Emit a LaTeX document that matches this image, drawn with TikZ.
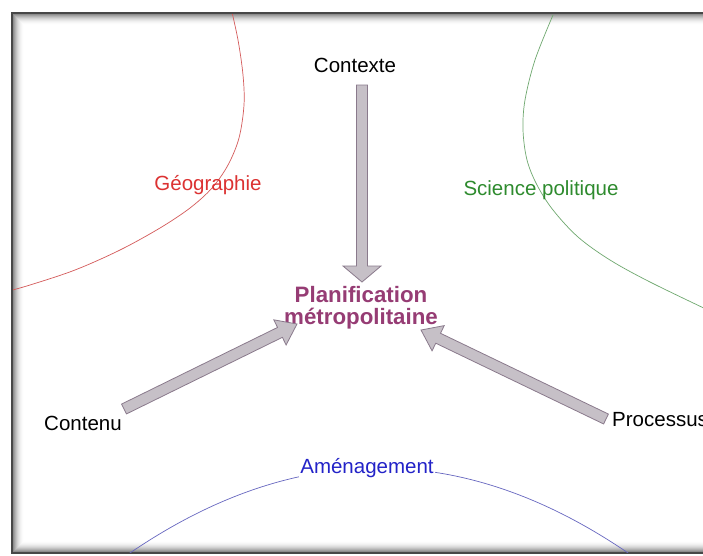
\documentclass[tikz,border=0pt]{standalone}
\usepackage{fontspec}
\setmainfont{Liberation Sans}
\usetikzlibrary{calc}
\definecolor{geotxt}{HTML}{DC3232}
\definecolor{geoarc}{HTML}{D45A5A}
\definecolor{scitxt}{HTML}{2E8B2E}
\definecolor{sciarc}{HTML}{6FA86F}
\definecolor{amentxt}{HTML}{2323C8}
\definecolor{amenarc}{HTML}{6666C0}
\definecolor{plantxt}{HTML}{963C74}
\definecolor{arrfill}{HTML}{C6C0C7}
\definecolor{arrline}{HTML}{8A7A8C}
\newcommand\blockarrow[5]{%
  \coordinate (#1-#2-b) at ($(#2)!#4!(#1)$);
  \filldraw[blockarr]
    ($(#1)!#3!90:(#2)$) -- ($(#1-#2-b)!#3!90:(#2)$) -- ($(#1-#2-b)!#5!90:(#2)$)
    -- (#2) -- ($(#1-#2-b)!#5!-90:(#2)$) -- ($(#1-#2-b)!#3!-90:(#2)$)
    -- ($(#1)!#3!-90:(#2)$) -- cycle;
}
\begin{document}
\begin{tikzpicture}[x=1pt,y=-1pt,
  lbl/.style={inner sep=0pt, anchor=base, font=\fontsize{20.5}{24}\selectfont},
  arc/.style={line width=0.7pt},
  blockarr/.style={fill=arrfill, draw=arrline, line width=0.8pt, line join=miter}]
\useasboundingbox (0,0) rectangle (703,555);
\fill[white] (0,0) rectangle (703,555);
% inner shadow of the frame
\foreach \i in {0,...,10}{
  \pgfmathsetmacro\op{0.45*(1-\i/11)^2}
  \draw[black, opacity=\op, line width=1pt] (13.5+\i,14.5+\i) rectangle (720-\i,551.5-\i);
}
\draw[black!72, line width=2pt] (12,13) rectangle (722,553);
% arcs
\begin{scope}
\clip (13,14) rectangle (703,552);
\draw[arc, geoarc] plot[smooth, tension=0.55] coordinates
  {(231,8) (238,40) (243,75) (244,105) (239,138) (228,165) (212,188) (190,208)
   (160,228) (120,250) (75,270) (30,285) (5,292)};
\draw[arc, sciarc] plot[smooth, tension=0.55] coordinates
  {(553,15) (535,60) (525,100) (523,130) (527,160) (537,185) (553,210)
   (578,237) (610,260) (650,282) (710,311)};
\draw[arc, amenarc] plot[domain=115:645, samples=80, smooth] (\x, {468+13.7*((\x-379)/100)^2});
\end{scope}
% labels
\node[lbl] (ctx) at (355,72) {Contexte};
\node[lbl, text=geotxt] (geo) at (208,190) {Géographie};
\node[lbl, text=scitxt] (sci) at (541,195) {Science politique};
\node[inner sep=0pt, align=center, text=plantxt,
      font=\fontsize{22.3}{22}\selectfont\bfseries] (plan) at (361,308)
      {Planification\\métropolitaine};
\node[lbl] (cont) at (83,430) {Contenu};
\node[lbl, anchor=base west] (proc) at (612,426) {Processus};
\node[lbl, text=amentxt, fill=white, inner sep=1pt] (amen) at (367,473) {Aménagement};
% arrow end points
\coordinate (ctxT) at (362,85);
\coordinate (planN) at (362,282);
\coordinate (contT) at (124,409);
\coordinate (planW) at (297,324);
\coordinate (procT) at (606,419);
\coordinate (planE) at (421,330);
\blockarrow{ctxT}{planN}{5.5pt}{16pt}{19pt}
\blockarrow{contT}{planW}{5.5pt}{19pt}{14pt}
\blockarrow{procT}{planE}{5.5pt}{19pt}{14pt}
\end{tikzpicture}
\end{document}
